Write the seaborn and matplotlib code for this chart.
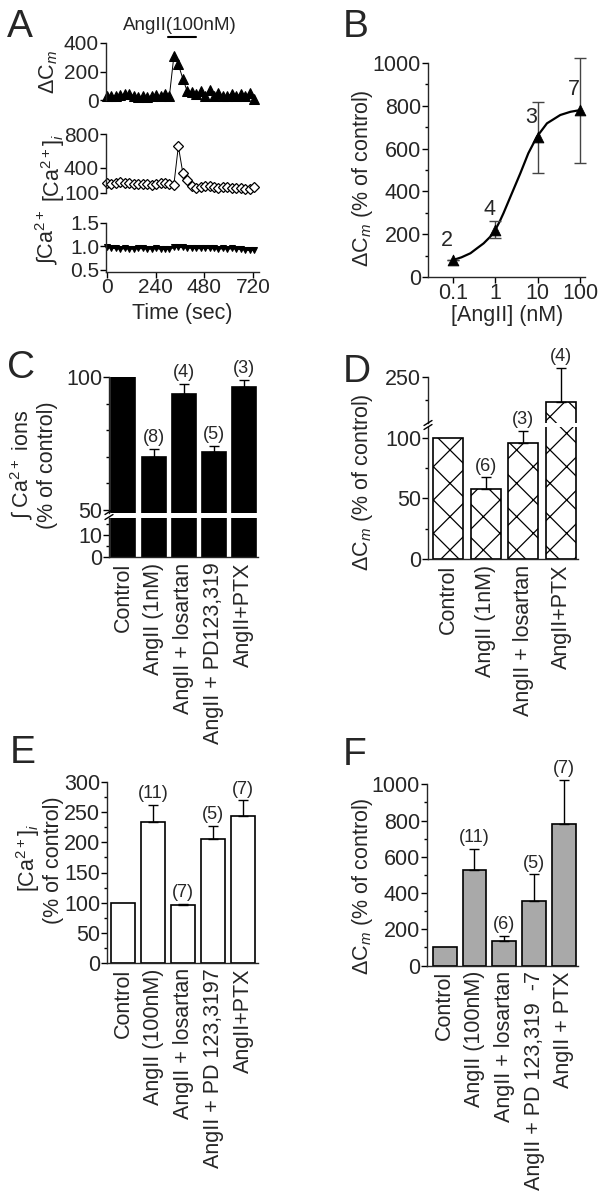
import pandas as pd
import seaborn as sns
import matplotlib.pyplot as plt
from matplotlib.lines import Line2D
from matplotlib.ticker import FixedLocator, MultipleLocator, LogLocator, NullFormatter

# ---- panel A: single cell time course ----
time_s = [0, 22, 44, 66, 88, 110, 132, 154, 176, 198, 220, 242, 264, 286, 308,
          330, 352, 374, 396, 418, 440, 462, 484, 506, 528, 550, 572, 594, 616,
          638, 660, 682, 704, 726]
dcm_trace = [25, 30, 30, 35, 40, 45, 30, 20, 25, 20, 30, 35, 25, 40, 30,
             310, 250, 150, 60, 55, 40, 65, 30, 70, 30, 50, 30, 30, 45,
             30, 40, 25, 50, 5]
ca_trace = [215, 210, 215, 225, 220, 215, 210, 205, 210, 205, 200, 210, 215, 220, 205,
            200, 655, 340, 255, 185, 165, 175, 185, 180, 170, 165, 175, 170, 160,
            165, 160, 150, 145, 170]
intca_trace = [0.98, 0.97, 0.96, 0.95, 0.96, 0.95, 0.95, 0.96, 0.96, 0.95, 0.95, 0.96,
               0.95, 0.94, 0.95, 0.98, 0.99, 0.98, 0.97, 0.97, 0.96, 0.96, 0.97, 0.96,
               0.96, 0.95, 0.96, 0.95, 0.96, 0.95, 0.94, 0.93, 0.92, 0.93]
stim_window = [300, 440]

# ---- panel B: dose response ----
dose_nM = [0.1, 1, 10, 100]
dose_dcm = [78, 220, 652, 780]
dose_err = [0, 40, 165, 245]
dose_n = ['2', '4', '3', '7']
fit_x = [0.1, 0.16, 0.26, 0.37, 0.53, 0.76, 1.0, 1.26, 1.56, 2.46, 3.9, 6.0,
         9.6, 12.6, 16.5, 23.5, 34, 59, 100]
fit_y = [79, 92, 111, 134, 157, 188, 220, 258, 298, 391, 485, 578,
         656, 687, 718, 737, 757, 772, 780]

# ---- panel C ----
c_labels = ['Control', 'AngII (1nM)', 'AngII + losartan', 'AngII + PD123,319', 'AngII+PTX']
c_vals = [100, 70, 93.6, 71.9, 96.1]
c_err = [0, 2.9, 3.7, 2.3, 2.8]
c_n = ['', '(8)', '(4)', '(5)', '(3)']

# ---- panel D ----
d_labels = ['Control', 'AngII (1nM)', 'AngII + losartan', 'AngII+PTX']
d_vals = [100, 57.5, 96, 195]
d_err = [0, 9.8, 9.5, 75]
d_n = ['', '(6)', '(3)', '(4)']

# ---- panel E ----
e_labels = ['Control', 'AngII (100nM)', 'AngII + losartan', 'AngII + PD 123,3197', 'AngII+PTX']
e_vals = [100, 234, 96, 205, 244]
e_err = [0, 28, 1.5, 22, 26]
e_n = ['', '(11)', '(7)', '(5)', '(7)']

# ---- panel F ----
f_labels = ['Control', 'AngII (100nM)', 'AngII + losartan', 'AngII + PD 123,319  -7', 'AngII + PTX']
f_vals = [100, 527, 136, 355, 780]
f_err = [0, 116, 26, 148, 245]
f_n = ['', '(11)', '(6)', '(5)', '(7)']

sns.set_theme(style='ticks')
plt.rcParams['font.family'] = ['Liberation Sans', 'DejaVu Sans']
plt.rcParams['mathtext.fontset'] = 'custom'
plt.rcParams['mathtext.rm'] = 'Liberation Sans'
plt.rcParams['mathtext.it'] = 'Liberation Sans:italic'
plt.rcParams['axes.linewidth'] = 1.0
plt.rcParams['hatch.linewidth'] = 0.9

FS = 15.5
NFS = 13
W, H = 602, 1199
fig = plt.figure(figsize=(W / 100, H / 100), dpi=100)


def box(l, t, r, b):
    return fig.add_axes([l / W, 1 - b / H, (r - l) / W, (b - t) / H])


def ftext(x, y, s, **kw):
    fig.text(x / W, 1 - y / H, s, **kw)


def style(ax, bottom=True, fs=FS):
    sns.despine(ax=ax, bottom=not bottom)
    ax.tick_params(which='major', length=4, width=1, pad=1, labelsize=fs, color='black')
    ax.tick_params(which='minor', length=2.5, width=1, color='black')
    ax.set_xlabel('')
    ax.set_ylabel('')
    ax.set_facecolor('none')


def break_mark(x, y):
    fig.add_artist(Line2D([(x - 4) / W, (x + 4) / W], [1 - (y + 2.5) / H, 1 - (y - 2.5) / H],
                          color='black', lw=1))


def bars(ax, labels, vals, face, hatch=None):
    df = pd.DataFrame({'cond': labels, 'val': vals})
    sns.barplot(data=df, x='cond', y='val', ax=ax, color=face, edgecolor='black',
                linewidth=1.2, width=0.8, errorbar=None, saturation=1)
    if hatch:
        for p in ax.patches:
            p.set_hatch(hatch)


def err_labels(ax, vals, errs, ns, keep):
    for i, (v, e, n) in enumerate(zip(vals, errs, ns)):
        if not keep(v):
            continue
        if e > 0:
            cont = ax.errorbar([i], [v], yerr=[[0], [e]], fmt='none', ecolor='black',
                               elinewidth=1, capsize=3.5, capthick=1)
            for art in list(cont.lines[1]) + list(cont.lines[2]):
                art.set_clip_on(False)
        if n:
            ax.annotate(n, (i, v + e), xytext=(0, 2), textcoords='offset points',
                        ha='center', va='bottom', fontsize=NFS, annotation_clip=False)


def xlabels(ax, labels):
    ax.set_xticks(range(len(labels)))
    ax.set_xticklabels(labels, rotation=90, fontsize=FS)
    ax.tick_params(axis='x', length=0, pad=4)


# ================= A =================
a1 = box(106, 43, 259, 100)
a2 = box(106, 134, 259, 193)
a3 = box(106, 223, 259, 272)
sns.lineplot(x=time_s, y=dcm_trace, ax=a1, color='black', lw=0.7, marker='^',
             markersize=7, markeredgecolor='black', estimator=None)
sns.lineplot(x=time_s, y=ca_trace, ax=a2, color='black', lw=0.7, marker='D',
             markersize=5, markerfacecolor='white', markeredgecolor='black',
             markeredgewidth=0.9, estimator=None)
sns.lineplot(x=time_s, y=intca_trace, ax=a3, color='black', lw=1.5, marker='v',
             markersize=5, markeredgecolor='black', estimator=None)
for ax in (a1, a2, a3):
    ax.set_xlim(-5, 750)
    for ln in ax.lines:
        ln.set_clip_on(False)
a1.set_ylim(0, 400)
a1.yaxis.set_major_locator(FixedLocator([0, 200, 400]))
a2.set_ylim(100, 800)
a2.yaxis.set_major_locator(FixedLocator([100, 400, 800]))
a3.set_ylim(0.45, 1.5)
a3.yaxis.set_major_locator(FixedLocator([0.5, 1.0, 1.5]))
a3.set_yticklabels(['0.5', '1.0', '1.5'])
a3.xaxis.set_major_locator(FixedLocator([0, 240, 480, 720]))
for ax in (a1, a2):
    style(ax, bottom=False, fs=15)
    ax.set_xticks([])
style(a3, fs=15)
a3.tick_params(axis='x', pad=0)
a1.plot(stim_window, [442, 442], color='black', lw=1.5, clip_on=False)
a1.text(sum(stim_window) / 2 - 10, 526, 'AngII(100nM)', ha='center', va='center', fontsize=13.5)
ftext(49, 72, 'ΔC$_m$', rotation=90, ha='center', va='center', fontsize=FS)
ftext(53, 168, '[Ca$^{2+}$]$_i$', rotation=90, ha='center', va='center', fontsize=FS)
ftext(47, 237, '∫Ca$^{2+}$', rotation=90, ha='center', va='center', fontsize=FS)
ftext(182, 314, 'Time (sec)', ha='center', va='center', fontsize=FS)

# ================= B =================
b = box(428, 63, 585, 277)
sns.lineplot(x=fit_x, y=fit_y, ax=b, color='black', lw=1.6, estimator=None, sort=False)
b.errorbar(dose_nM, dose_dcm, yerr=dose_err, fmt='none', ecolor='#444444',
           elinewidth=1, capsize=4, capthick=1, clip_on=False)
sns.scatterplot(x=dose_nM, y=dose_dcm, ax=b, marker='^', s=60, color='black',
                edgecolor='black', zorder=3, clip_on=False)
for xv, yv, n in zip(dose_nM, dose_dcm, dose_n):
    b.annotate(n, (xv, yv), xytext=(-4.5, 14.5), textcoords='offset points',
               ha='center', va='center', fontsize=FS)
b.set_xscale('log')
b.set_xlim(0.026, 130)
b.set_ylim(0, 1000)
b.xaxis.set_major_locator(FixedLocator([0.1, 1, 10, 100]))
b.set_xticklabels(['0.1', '1', '10', '100'])
b.xaxis.set_minor_locator(LogLocator(subs=[2, 3, 4, 5, 6, 7, 8, 9]))
b.xaxis.set_minor_formatter(NullFormatter())
b.yaxis.set_major_locator(MultipleLocator(200))
b.yaxis.set_minor_locator(MultipleLocator(100))
style(b)
b.tick_params(axis='x', pad=0)
ftext(362, 178, 'ΔC$_m$ (% of control)', rotation=90, ha='center', va='center', fontsize=FS)
ftext(507, 315, '[AngII] (nM)', ha='center', va='center', fontsize=FS)

# ================= C =================
cu = box(109, 377, 258, 512.5)
cl = box(109, 518, 258, 557)
for ax in (cu, cl):
    bars(ax, c_labels, c_vals, 'black')
    ax.set_xlim(-0.48, 4.47)
cu.set_ylim(49, 100)
cu.yaxis.set_major_locator(FixedLocator([50, 100]))
cu.yaxis.set_minor_locator(MultipleLocator(10))
cl.set_ylim(0, 17.7)
cl.yaxis.set_major_locator(FixedLocator([0, 10]))
cl.yaxis.set_minor_locator(FixedLocator([5, 15]))
err_labels(cu, c_vals, c_err, c_n, lambda v: True)
style(cu, bottom=False)
cu.set_xticks([])
style(cl)
xlabels(cl, c_labels)
break_mark(109, 512)
break_mark(109, 517)
ftext(22, 465, '∫ Ca$^{2+}$ ions', rotation=90, ha='center', va='center', fontsize=FS)
ftext(48, 465, '(% of control)', rotation=90, ha='center', va='center', fontsize=FS)

# ================= D =================
du = box(428, 377, 578, 423)
dl = box(428, 427, 578, 559)
for ax in (du, dl):
    bars(ax, d_labels, d_vals, 'white', hatch='x')
    ax.set_xlim(-0.53, 3.45)
du.set_ylim(150, 250)
du.yaxis.set_major_locator(FixedLocator([250]))
du.yaxis.set_minor_locator(FixedLocator([200]))
dl.set_ylim(0, 108.8)
dl.yaxis.set_major_locator(FixedLocator([0, 50, 100]))
dl.yaxis.set_minor_locator(MultipleLocator(25))
err_labels(du, d_vals, d_err, d_n, lambda v: v >= 150)
err_labels(dl, d_vals, d_err, d_n, lambda v: v < 150)
style(du, bottom=False)
du.set_xticks([])
style(dl)
xlabels(dl, d_labels)
break_mark(428, 423)
break_mark(428, 427)
ftext(362, 482, 'ΔC$_m$ (% of control)', rotation=90, ha='center', va='center', fontsize=FS)

# ================= E =================
e = box(107, 782.3, 258, 962.7)
bars(e, e_labels, e_vals, 'white')
e.set_xlim(-0.55, 4.5)
e.set_ylim(0, 300)
e.yaxis.set_major_locator(MultipleLocator(50))
e.yaxis.set_minor_locator(MultipleLocator(25))
err_labels(e, e_vals, e_err, e_n, lambda v: True)
style(e)
xlabels(e, e_labels)
ftext(28, 858, '[Ca$^{2+}$]$_i$', rotation=90, ha='center', va='center', fontsize=FS)
ftext(54, 860, '(% of control)', rotation=90, ha='center', va='center', fontsize=FS)

# ================= F =================
f = box(426.7, 784.3, 578, 965.5)
bars(f, f_labels, f_vals, '#a9a9a9')
f.set_xlim(-0.6, 4.47)
f.set_ylim(0, 1000)
f.yaxis.set_major_locator(MultipleLocator(200))
f.yaxis.set_minor_locator(MultipleLocator(100))
err_labels(f, f_vals, f_err, f_n, lambda v: True)
style(f)
xlabels(f, f_labels)
ftext(362, 886, 'ΔC$_m$ (% of control)', rotation=90, ha='center', va='center', fontsize=FS)

# panel letters
for letter, x, y in [('A', 7, 37), ('B', 343, 37), ('C', 7, 378), ('D', 343, 382),
                     ('E', 10, 763), ('F', 343, 765)]:
    ftext(x, y, letter, fontsize=28, ha='left', va='baseline')

fig.savefig('out.png', dpi=100)
